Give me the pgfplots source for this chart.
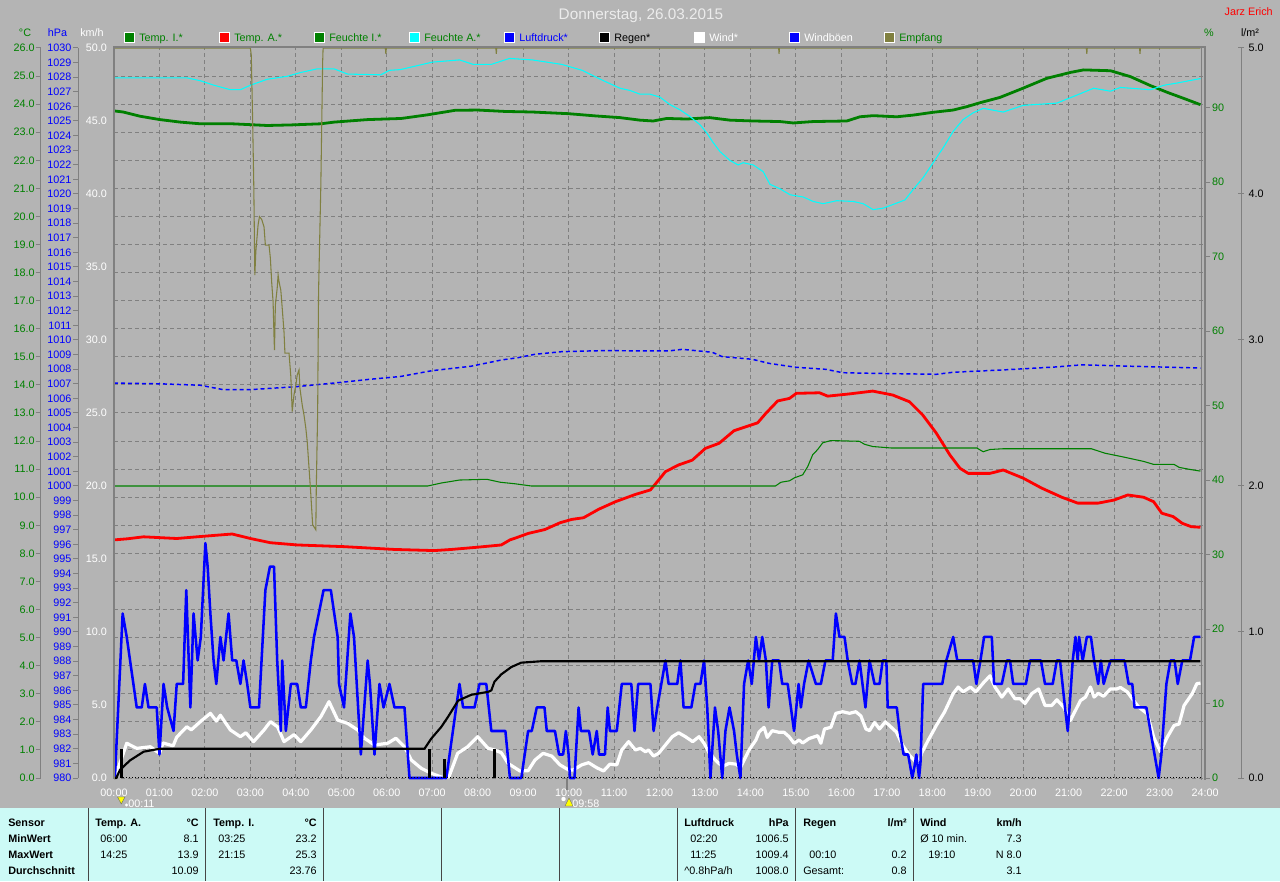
\documentclass[border=0pt]{standalone}
\usepackage{fontspec}
\setmainfont{Liberation Sans}
\usepackage{pgfplots}
\pgfplotsset{compat=1.18}
\newcommand\fs{\fontsize{8.1pt}{9.7pt}\selectfont}
\definecolor{bg}{RGB}{180,180,180}
\definecolor{gridc}{RGB}{128,128,128}
\definecolor{dgreen}{RGB}{0,128,0}
\definecolor{olivc}{RGB}{128,128,64}
\definecolor{tabbg}{RGB}{204,250,246}
\definecolor{sepc}{RGB}{70,70,70}
\definecolor{titc}{RGB}{236,236,236}
\definecolor{yel}{RGB}{255,255,0}
\definecolor{cyanc}{RGB}{0,255,255}
\definecolor{bluec}{RGB}{0,0,255}
\definecolor{redc}{RGB}{255,0,0}

\pgfplotsset{
 base/.style={scale only axis, width=818.25pt, height=547.5pt, at={(85.5pt,77.25pt)}, anchor=south west,
   xmin=0, xmax=24, /pgf/number format/assume math mode=true, tick label style={font=\fs}},
 hid/.style={base, hide x axis, hide y axis},
 lab/.style={scale only axis, width=1.5pt, height=547.5pt, anchor=south west, xmin=0, xmax=1, hide x axis,
   /pgf/number format/assume math mode=true, tick label style={font=\fs},
   axis line style={gridc, line width=0.75pt, -}, ytick style={gridc, line width=0.75pt}},
}

\begin{document}
\begin{tikzpicture}[font=\fs]
\fill[bg] (0,0) rectangle (960pt,660.75pt);
\begin{scope}[shift={(0pt,660.75pt)},x=0.75pt,y=-0.75pt]
 \fill[tabbg] (0,808) rectangle (1280,881);
 \foreach \xx in {88,205,323,441,559,677,795,913} \draw[sepc, line width=0.75pt] (\xx,808) -- (\xx,881);
\end{scope}

% ---- degC axis: grid, time labels, temperatures
\begin{axis}[base, ymin=0, ymax=26, ytick={0,1,...,26}, yticklabels={},
  xtick={0,1,...,24},
  xticklabels={00:00,01:00,02:00,03:00,04:00,05:00,06:00,07:00,08:00,09:00,10:00,11:00,12:00,13:00,14:00,15:00,16:00,17:00,18:00,19:00,20:00,21:00,22:00,23:00,24:00},
  xticklabel style={white, anchor=center, yshift=-10.9pt},
  major tick length=0pt, tick style={draw=none},
  grid=major, major grid style={gridc, line width=0.75pt, dash pattern=on 3pt off 2.25pt},
  axis line style={draw=none}]
\addplot[dgreen, line width=2.1pt, line join=round] coordinates {
(0,23.76) (0.2,23.72) (0.57,23.57) (1.01,23.45) (1.46,23.36) (1.9,23.30) (2.6,23.30) (3.37,23.24) (3.9,23.26) (4.55,23.30) (4.84,23.36) (5.58,23.45) (6.32,23.49) (6.9,23.62) (7.5,23.78) (8.0,23.79) (8.6,23.74) (9.2,23.72) (10.0,23.66) (10.6,23.58) (11.13,23.52) (11.57,23.43) (11.86,23.40) (12.16,23.49) (12.6,23.47) (13.1,23.52) (13.55,23.43) (14.06,23.40) (14.65,23.38) (14.94,23.33) (15.38,23.38) (16.12,23.40) (16.41,23.55) (16.7,23.59) (17.22,23.55) (17.58,23.61) (18.02,23.71) (18.46,23.79) (18.76,23.91) (19.05,24.05) (19.49,24.24) (20.0,24.57) (20.52,24.92) (21.04,25.13) (21.33,25.22) (21.92,25.19) (22.36,24.98) (22.8,24.66) (23.17,24.42) (23.54,24.2) (23.9,23.98)};
\addplot[redc, line width=2.1pt, line join=round] coordinates {
(0,8.48) (0.3,8.52) (0.65,8.59) (1.38,8.53) (2.05,8.62) (2.6,8.69) (3.0,8.53) (3.44,8.38) (4.03,8.30) (5.06,8.24) (6.17,8.14) (7.05,8.10) (7.42,8.14) (8.0,8.22) (8.52,8.3) (8.71,8.48) (8.82,8.54) (9.11,8.71) (9.48,8.85) (9.81,9.09) (10.07,9.21) (10.33,9.27) (10.66,9.57) (11.03,9.84) (11.47,10.10) (11.80,10.26) (11.95,10.55) (12.13,10.91) (12.42,11.15) (12.72,11.32) (13.01,11.74) (13.31,11.92) (13.64,12.37) (13.90,12.51) (14.16,12.65) (14.34,12.99) (14.60,13.43) (14.86,13.52) (15.01,13.70) (15.52,13.72) (15.70,13.60) (16.18,13.68) (16.69,13.78) (17.13,13.64) (17.50,13.40) (17.79,12.93) (18.09,12.28) (18.39,11.50) (18.61,11.03) (18.79,10.85) (19.27,10.85) (19.42,10.91) (19.56,10.97) (20.0,10.68) (20.4,10.33) (20.85,10.0) (21.2,9.79) (21.65,9.79) (22.0,9.9) (22.3,10.08) (22.65,10.0) (22.87,9.84) (23.05,9.43) (23.3,9.31) (23.5,9.07) (23.7,8.95) (23.9,8.93)};
\end{axis}

% ---- humidity axis (%)
\begin{axis}[base, ymin=0, ymax=98, hide x axis, ytick={0,10,...,90}, ytick pos=right, yticklabel pos=right,
  tick align=outside, major tick length=3.75pt, ytick style={gridc, line width=0.75pt},
  yticklabel style={dgreen, anchor=west, xshift=-2pt}, axis line style={draw=none}]
\addplot[dgreen, line width=0.8pt] coordinates {
(0,39.2) (6.9,39.2) (7.2,39.6) (7.6,40.0) (8.2,40.1) (8.5,39.7) (8.82,39.5) (9.18,39.2) (14.55,39.2) (14.67,39.7) (14.86,39.9) (14.97,40.3) (15.15,40.7) (15.26,41.8) (15.37,43.4) (15.48,44.1) (15.59,45.0) (15.77,45.3) (16.40,45.2) (16.51,44.8) (16.69,44.5) (17.10,44.3) (18.98,44.3) (19.12,43.8) (19.27,44.1) (19.56,44.2) (21.5,44.2) (21.8,43.6) (22.2,43.1) (22.65,42.5) (22.87,42.1) (23.32,42.1) (23.43,41.7) (23.69,41.4) (23.9,41.2)};
\addplot[cyanc, line width=0.8pt] coordinates {
(0,94.0) (1.6,94.0) (1.9,93.6) (2.2,93.0) (2.56,92.4) (2.78,92.4) (3.0,93.0) (3.37,93.8) (3.81,94.2) (4.1,94.7) (4.47,95.2) (4.84,95.2) (5.14,94.5) (5.87,94.4) (6.06,95.0) (6.3,95.1) (7.0,96.1) (7.6,96.4) (7.9,95.8) (8.3,95.8) (8.7,96.6) (9.2,96.4) (9.85,95.8) (10.3,95.0) (10.7,93.8) (11.13,92.6) (11.35,92.3) (11.57,91.8) (11.79,91.8) (12.01,91.4) (12.23,90.4) (12.45,89.7) (12.67,88.8) (12.89,87.7) (13.04,86.6) (13.18,85.3) (13.33,84.1) (13.55,82.9) (13.73,82.3) (13.84,82.6) (14.06,82.3) (14.28,81.4) (14.43,79.7) (14.65,79.1) (14.87,78.3) (15.16,78.0) (15.38,77.4) (15.6,77.1) (15.9,77.5) (16.26,77.4) (16.48,77.1) (16.7,76.3) (16.92,76.5) (17.14,77.0) (17.4,77.6) (17.58,79.0) (17.8,80.6) (18.02,82.6) (18.24,84.6) (18.46,86.8) (18.68,88.4) (18.9,89.3) (19.12,89.9) (19.56,89.4) (20.0,90.3) (20.74,90.6) (21.11,91.5) (21.55,92.6) (21.92,92.2) (22.14,92.7) (22.8,92.4) (23.1,93.0) (23.39,93.3) (23.9,93.9)};
\end{axis}

% ---- pressure (hPa)
\begin{axis}[hid, ymin=980, ymax=1030]
\addplot[bluec, line width=1.1pt, dash pattern=on 3pt off 2.25pt] coordinates {
(0,1007.05) (1.0,1007.0) (1.9,1006.9) (2.4,1006.6) (3.0,1006.6) (4.0,1006.8) (5.0,1007.1) (5.6,1007.3) (6.3,1007.5) (7.0,1007.9) (7.85,1008.2) (8.52,1008.63) (8.89,1008.79) (9.26,1009.02) (9.85,1009.2) (10.73,1009.27) (12.2,1009.25) (12.5,1009.36) (13.16,1009.16) (13.38,1008.86) (14.04,1008.68) (14.41,1008.4) (15.0,1008.13) (15.66,1007.99) (16.03,1007.76) (16.62,1007.72) (18.09,1007.65) (18.46,1007.79) (19.56,1007.95) (20.7,1008.15) (21.3,1008.3) (22.4,1008.2) (23.9,1008.08)};
\end{axis}

% ---- wind (km/h)
\begin{axis}[base, ymin=0, ymax=50, hide x axis, clip=false, ytick={0,5,...,50}, ytick pos=left,
  major tick length=0pt, ytick style={draw=none},
  yticklabel={\pgfmathprintnumber[fixed,fixed zerofill,precision=1]{\tick}},
  yticklabel style={white, anchor=east, xshift=-1.8pt}, axis line style={draw=none}]
\addplot[white, line width=2.4pt, line join=round] coordinates {
(0.02,0) (0.28,2.38) (0.5,2.03) (0.8,2.14) (1.0,1.69) (1.08,2.4) (1.3,2.2) (1.38,2.8) (1.6,3.51) (1.7,3.3) (1.9,3.86) (2.12,4.43) (2.25,3.9) (2.34,4.3) (2.56,3.29) (2.78,2.83) (2.9,3.1) (3.07,2.49) (3.3,3.29) (3.44,3.86) (3.6,3.5) (3.74,2.49) (3.96,2.97) (4.11,2.49) (4.33,3.29) (4.55,4.2) (4.73,5.23) (4.92,3.97) (5.14,3.74) (5.36,3.29) (5.51,2.72) (5.73,2.26) (6.02,2.38) (6.2,2.72) (6.39,2.14) (6.54,1.23) (6.76,0.66) (6.98,0.32) (7.26,0) (7.37,0.1) (7.56,1.69) (7.78,2.14) (8.0,2.83) (8.23,2.03) (8.37,1.92) (8.52,1.73) (8.67,1.0) (8.93,0.48) (9.11,0.5) (9.26,1.23) (9.44,1.69) (9.63,1.5) (9.81,0.9) (10.0,0.55) (10.1,0.55) (10.29,0.9) (10.44,1.05) (10.62,0.7) (10.77,0.48) (10.91,0.95) (11.06,0.9) (11.17,1.92) (11.32,2.49) (11.47,1.92) (11.58,2.03) (11.69,1.8) (11.76,1.92) (11.87,1.5) (11.98,1.69) (12.13,2.26) (12.28,2.83) (12.42,3.1) (12.57,2.83) (12.73,2.49) (12.87,2.83) (12.98,2.38) (13.09,1.73) (13.23,1.23) (13.38,0.78) (13.53,1.0) (13.68,0.95) (13.78,0.71) (13.97,1.92) (14.12,2.6) (14.19,3.15) (14.30,3.47) (14.37,2.78) (14.48,3.24) (14.63,3.13) (14.74,3.13) (14.85,2.83) (14.96,2.38) (15.07,2.6) (15.15,2.4) (15.29,2.7) (15.48,2.9) (15.55,2.38) (15.63,3.36) (15.77,3.47) (15.88,4.43) (16.03,4.54) (16.18,4.43) (16.32,4.54) (16.43,4.25) (16.54,3.36) (16.62,3.24) (16.73,3.8) (16.84,3.36) (16.97,3.85) (17.02,3.7) (17.21,3.15) (17.35,2.23) (17.50,1.55) (17.69,0.94) (17.76,1.67) (17.91,2.58) (18.09,3.6) (18.27,4.52) (18.46,5.78) (18.57,6.23) (18.68,5.9) (18.84,6.23) (18.96,5.9) (19.12,6.5) (19.27,7.0) (19.38,6.23) (19.53,5.54) (19.67,6.1) (19.82,5.43) (19.93,5.43) (20.04,5.1) (20.19,5.78) (20.34,6.1) (20.48,4.97) (20.63,4.97) (20.74,5.36) (20.89,4.86) (21.04,3.95) (21.15,4.63) (21.26,5.3) (21.37,5.54) (21.48,6.23) (21.56,5.54) (21.65,5.8) (21.77,5.6) (21.92,6.1) (22.06,6.1) (22.14,6.2) (22.29,5.9) (22.43,5.3) (22.54,4.86) (22.73,4.4) (22.87,2.8) (23.02,1.78) (23.17,2.8) (23.32,3.6) (23.43,3.7) (23.54,4.97) (23.72,5.78) (23.82,6.46) (23.9,6.5)};
\addplot[bluec, line width=1.9pt, line join=round] coordinates {
(0.02,0) (0.19,11.27) (0.28,9.66) (0.50,4.83) (0.61,4.83) (0.68,6.44) (0.76,4.83) (0.94,4.83) (1.00,1.61) (1.09,6.44) (1.17,4.83) (1.31,3.22) (1.38,6.44) (1.52,6.44) (1.59,12.87) (1.68,4.83) (1.75,11.27) (1.84,8.05) (1.91,9.66) (2.01,16.09) (2.06,14.48) (2.12,11.27) (2.19,8.05) (2.25,6.44) (2.34,9.66) (2.41,8.05) (2.52,11.27) (2.60,8.05) (2.69,8.05) (2.78,6.44) (2.85,8.05) (2.93,6.44) (3.00,4.83) (3.19,4.83) (3.33,12.87) (3.43,14.48) (3.52,14.48) (3.59,8.05) (3.67,3.22) (3.70,8.05) (3.78,3.22) (3.89,6.44) (4.03,6.44) (4.11,4.83) (4.22,4.83) (4.33,8.05) (4.40,9.66) (4.61,12.87) (4.77,12.87) (4.92,9.66) (4.95,6.44) (5.06,4.83) (5.20,11.27) (5.28,9.66) (5.43,1.61) (5.58,8.05) (5.63,6.44) (5.73,1.61) (5.84,6.44) (5.93,4.83) (6.06,6.44) (6.17,4.83) (6.39,4.83) (6.50,0) (7.31,0) (7.60,6.44) (7.68,4.83) (7.93,4.83) (8.04,6.44) (8.19,6.44) (8.30,3.22) (8.61,3.22) (8.71,0) (8.96,0) (9.11,3.22) (9.19,3.22) (9.30,4.83) (9.47,4.83) (9.52,3.22) (9.70,3.22) (9.79,1.61) (9.88,1.61) (9.94,3.22) (10.0,1.61) (10.03,0) (10.13,0) (10.22,4.83) (10.27,3.22) (10.45,3.22) (10.53,1.61) (10.62,3.22) (10.67,1.61) (10.80,1.61) (10.86,4.83) (10.91,3.22) (11.06,3.22) (11.17,6.44) (11.38,6.44) (11.45,3.22) (11.53,6.44) (11.80,6.44) (11.87,3.22) (11.95,4.83) (12.04,6.44) (12.13,8.05) (12.20,6.44) (12.39,6.44) (12.46,8.05) (12.53,4.83) (12.70,4.83) (12.79,6.44) (12.90,6.44) (12.98,8.05) (13.05,4.83) (13.12,0) (13.22,4.83) (13.29,3.22) (13.38,0) (13.45,3.22) (13.54,4.83) (13.64,3.22) (13.70,1.61) (13.78,0) (13.86,6.44) (13.95,8.05) (14.03,6.44) (14.12,9.66) (14.19,8.05) (14.26,9.66) (14.34,8.05) (14.40,4.83) (14.48,8.05) (14.63,8.05) (14.70,6.44) (14.82,6.44) (14.96,3.22) (15.06,6.44) (15.11,4.83) (15.18,6.44) (15.28,8.05) (15.44,6.44) (15.55,6.44) (15.65,8.05) (15.81,8.05) (15.88,11.27) (15.96,9.66) (16.07,9.66) (16.14,8.05) (16.24,6.44) (16.31,6.44) (16.40,8.05) (16.53,4.83) (16.62,8.05) (16.73,6.44) (16.84,6.44) (16.91,8.05) (16.99,8.05) (17.02,4.83) (17.22,4.83) (17.28,3.22) (17.37,1.61) (17.47,1.61) (17.56,0) (17.61,0.8) (17.65,1.61) (17.71,0) (17.74,1.0) (17.80,6.44) (18.22,6.44) (18.31,8.05) (18.46,9.66) (18.55,8.05) (18.90,8.05) (18.97,6.44) (19.06,8.05) (19.14,9.66) (19.31,9.66) (19.36,6.44) (19.53,6.44) (19.64,8.05) (19.71,8.05) (19.78,6.44) (20.06,6.44) (20.15,8.05) (20.39,8.05) (20.48,6.44) (20.65,6.44) (20.74,8.05) (20.81,8.05) (20.92,4.83) (20.98,3.22) (21.02,4.83) (21.09,8.05) (21.15,9.66) (21.20,8.05) (21.23,9.66) (21.31,8.05) (21.40,9.66) (21.49,9.66) (21.56,8.05) (21.65,6.44) (21.71,8.05) (21.77,6.44) (21.92,8.05) (22.23,8.05) (22.32,6.44) (22.40,6.44) (22.45,4.83) (22.71,4.83) (22.80,3.22) (22.89,1.61) (22.98,0) (23.04,1.61) (23.15,6.44) (23.24,8.05) (23.33,8.05) (23.40,6.44) (23.50,8.05) (23.67,8.05) (23.76,9.66) (23.9,9.66)};
\end{axis}

% ---- rain (l/m2)
\begin{axis}[hid, ymin=0, ymax=5, clip=false]
\addplot[black, line width=1.6pt, line join=round] coordinates {
(0,0) (0.05,0) (0.13,0.055) (0.35,0.12) (0.65,0.18) (1.0,0.2) (6.83,0.2) (6.98,0.27) (7.2,0.35) (7.35,0.42) (7.57,0.53) (7.86,0.57) (8.23,0.59) (8.3,0.6) (8.37,0.66) (8.52,0.71) (8.74,0.76) (8.96,0.79) (9.41,0.80) (23.9,0.80)};
\addplot[black, line width=2.25pt, ycomb] coordinates {(0.17,0.2) (6.94,0.2) (7.27,0.13) (8.36,0.2)};
\end{axis}

% ---- reception
\begin{axis}[hid, ymin=0, ymax=100]
\addplot[olivc, line width=0.8pt] coordinates {
(0,100) (3.0,100) (3.02,99) (3.05,90) (3.076,80.8) (3.098,68.9) (3.12,72.1) (3.17,75.8) (3.20,76.9) (3.25,76.5) (3.30,75.5) (3.33,73.0) (3.41,73.0) (3.44,71.2) (3.47,67.8) (3.50,65.2) (3.52,60.5) (3.53,58.6) (3.55,64.8) (3.59,67.1) (3.61,68.9) (3.63,68.0) (3.67,66.8) (3.70,64.4) (3.74,61.1) (3.76,58.2) (3.85,58.2) (3.89,55.0) (3.92,50.2) (3.96,52.5) (4.00,53.8) (4.03,55.2) (4.07,55.9) (4.09,53.4) (4.14,51.1) (4.18,49.7) (4.22,47.9) (4.25,46.1) (4.29,42.5) (4.33,38.8) (4.37,34.7) (4.44,34.0) (4.45,39.7) (4.48,50.2) (4.50,66.6) (4.55,81.2) (4.59,98.1) (4.60,100) (5.97,100) (5.98,99.2) (5.99,100) (8.40,100) (8.41,99.2) (8.42,100) (14.62,100) (14.63,99.2) (14.64,100) (21.39,100) (21.4,99.2) (21.41,100) (22.56,100) (22.57,99.2) (22.58,100) (23.9,100)};
\end{axis}

% ---- label-only axes
\begin{axis}[lab, at={(30.375pt,77.25pt)}, axis y line*=left, ymin=0, ymax=26, ytick={0,1,...,26},
  tick align=outside, major tick length=3.75pt,
  yticklabel={\pgfmathprintnumber[fixed,fixed zerofill,precision=1]{\tick}}, yticklabel style={dgreen, xshift=2.8pt}]
\addplot[draw=none] coordinates {(0,0)};
\end{axis}
\begin{axis}[lab, at={(58.5pt,77.25pt)}, axis y line*=left, ymin=980, ymax=1030, ytick={980,981,...,1030},
  tick align=outside, major tick length=3.75pt, /pgf/number format/1000 sep={}, yticklabel style={bluec, xshift=2.4pt}]
\addplot[draw=none] coordinates {(0,990)};
\end{axis}
\begin{axis}[lab, at={(929.25pt,77.25pt)}, axis y line*=right, ymin=0, ymax=5, ytick={0,1,...,5},
  tick align=center, major tick length=4.5pt,
  yticklabel={\pgfmathprintnumber[fixed,fixed zerofill,precision=1]{\tick}}, yticklabel style={black, anchor=west}]
\addplot[draw=none] coordinates {(0,0)};
\end{axis}

\begin{scope}[shift={(0pt,660.75pt)},x=0.75pt,y=-0.75pt]
 % frame
 \draw[black, line width=0.75pt, dash pattern=on 0.75pt off 1.5pt] (114,777.5) -- (1203,777.5);
 \draw[gridc, line width=1.5pt] (114,779) -- (114,47.25) -- (1205,47.25) -- (1205,780);
 \draw[gridc, line width=0.75pt] (1201.5,48) -- (1201.5,780);
 % title etc
 \node[titc, font=\fontsize{11.5pt}{13pt}\selectfont, anchor=base] at (641,20) {Donnerstag, 26.03.2015};
 \node[redc, anchor=base east, inner sep=0pt] at (1273,16) {Jarz Erich};
 \node[dgreen, anchor=base, inner sep=0pt] at (25,37) {°C};
 \node[bluec, anchor=base, inner sep=0pt] at (57.5,37) {hPa};
 \node[white, anchor=base, inner sep=0pt] at (92,37) {km/h};
 \node[dgreen, anchor=base, inner sep=0pt] at (1209,37) {\%};
 \node[black, anchor=base, inner sep=0pt] at (1250,37) {l/m²};
 % legend
 \foreach \i/\c/\t/\tc in {0/dgreen/Temp. I.*/dgreen, 1/redc/Temp. A.*/dgreen, 2/dgreen/Feuchte I.*/dgreen, 3/cyanc/Feuchte A.*/dgreen, 4/bluec/Luftdruck*/bluec, 5/black/Regen*/black, 6/white/Wind*/white, 7/bluec/Windböen/white, 8/olivc/Empfang/dgreen} {
   \filldraw[fill=\c, draw=white, line width=0.75pt] ({124+95*\i},33) rectangle ({134+95*\i},43);
   \node[\tc, anchor=base west, inner sep=0pt] at ({139+95*\i},42) {\t};
 }
 % markers below axis
 \fill[yel, draw=black!60, line width=0.3pt] (117.5,797) -- (125,797) -- (121.25,804) -- cycle;
 \fill[white] (126.5,805) circle (1.6);
 \node[white, anchor=base west, inner sep=0pt] at (128,807) {00:11};
 \draw[gridc, line width=1.5pt] (567,778) -- (567,790);
 \fill[white] (563.5,799) circle (2.2);
 \fill[yel, draw=black!60, line width=0.3pt] (565,806) -- (573,806) -- (569,798) -- cycle;
 \node[white, anchor=base west, inner sep=0pt] at (572,807) {09:58};
 % table text
 \begin{scope}[every node/.style={inner sep=0pt}]
 \node[anchor=base west, font=\fs\bfseries] at (8,826) {Sensor};
 \node[anchor=base west, font=\fs\bfseries] at (8,842) {MinWert};
 \node[anchor=base west, font=\fs\bfseries] at (8,858) {MaxWert};
 \node[anchor=base west, font=\fs\bfseries] at (8,874) {Durchschnitt};
 \node[anchor=base west, font=\fs\bfseries] at (95,826) {Temp. A.};
 \node[anchor=base east, font=\fs\bfseries] at (199,826) {°C};
 \node[anchor=base west] at (100,842) {06:00};
 \node[anchor=base east] at (199,842) {8.1};
 \node[anchor=base west] at (100,858) {14:25};
 \node[anchor=base east] at (199,858) {13.9};
 \node[anchor=base east] at (199,874) {10.09};
 \node[anchor=base west, font=\fs\bfseries] at (213,826) {Temp. I.};
 \node[anchor=base east, font=\fs\bfseries] at (317,826) {°C};
 \node[anchor=base west] at (218,842) {03:25};
 \node[anchor=base east] at (317,842) {23.2};
 \node[anchor=base west] at (218,858) {21:15};
 \node[anchor=base east] at (317,858) {25.3};
 \node[anchor=base east] at (317,874) {23.76};
 \node[anchor=base west, font=\fs\bfseries] at (684,826) {Luftdruck};
 \node[anchor=base east, font=\fs\bfseries] at (789,826) {hPa};
 \node[anchor=base west] at (690,842) {02:20};
 \node[anchor=base east] at (789,842) {1006.5};
 \node[anchor=base west] at (690,858) {11:25};
 \node[anchor=base east] at (789,858) {1009.4};
 \node[anchor=base west] at (684,874) {\textasciicircum 0.8hPa/h};
 \node[anchor=base east] at (789,874) {1008.0};
 \node[anchor=base west, font=\fs\bfseries] at (803,826) {Regen};
 \node[anchor=base east, font=\fs\bfseries] at (907,826) {l/m²};
 \node[anchor=base west] at (809,858) {00:10};
 \node[anchor=base east] at (907,858) {0.2};
 \node[anchor=base west] at (803,874) {Gesamt:};
 \node[anchor=base east] at (907,874) {0.8};
 \node[anchor=base west, font=\fs\bfseries] at (920,826) {Wind};
 \node[anchor=base east, font=\fs\bfseries] at (1022,826) {km/h};
 \node[anchor=base west] at (920,842) {Ø 10 min.};
 \node[anchor=base east] at (1022,842) {7.3};
 \node[anchor=base west] at (928,858) {19:10};
 \node[anchor=base east] at (1022,858) {N 8.0};
 \node[anchor=base east] at (1022,874) {3.1};
 \end{scope}
\end{scope}
\pgfresetboundingbox
\path[use as bounding box] (0,0) rectangle (960pt,660.75pt);
\end{tikzpicture}
\end{document}
